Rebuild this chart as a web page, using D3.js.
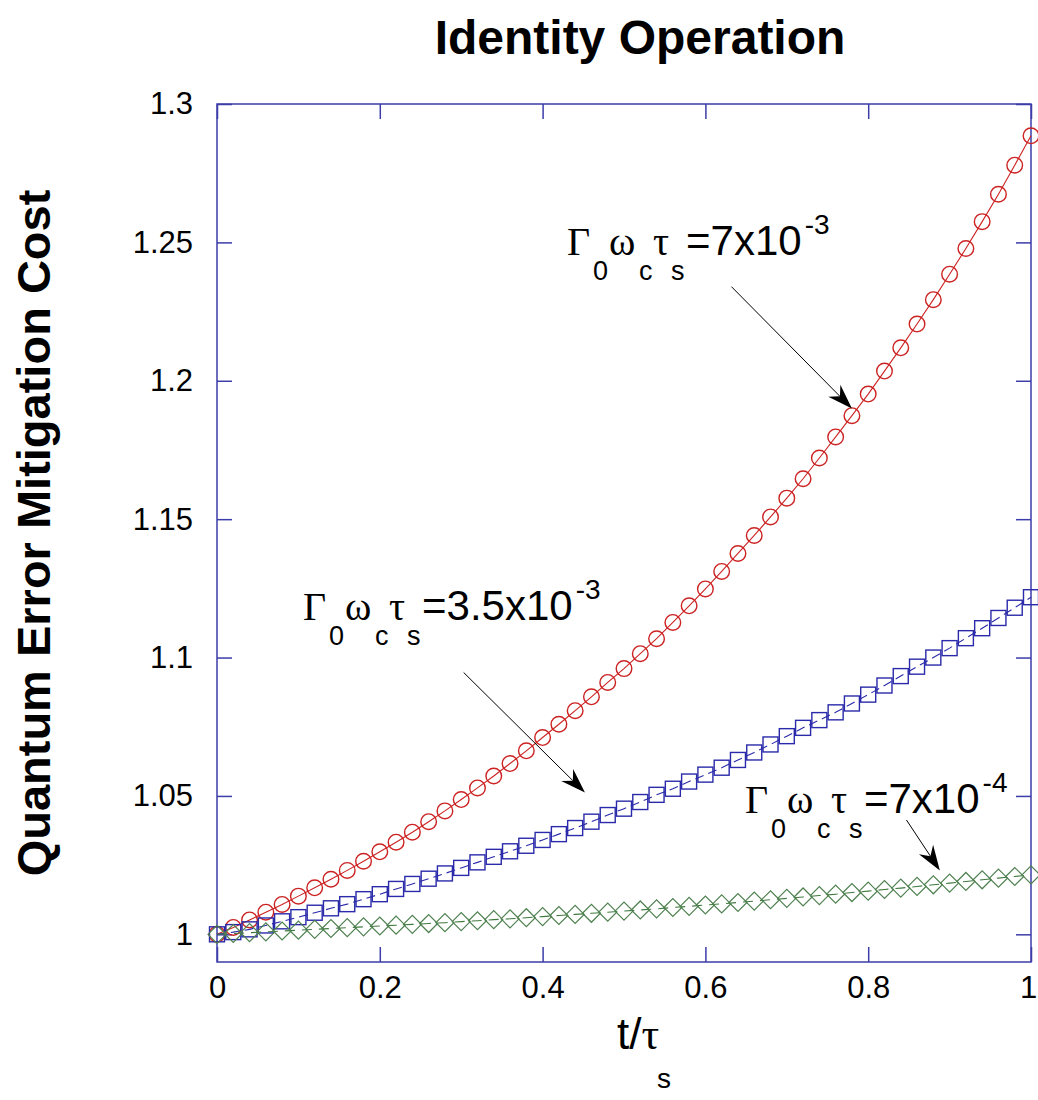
<!DOCTYPE html>
<html>
<head>
<meta charset="utf-8">
<script src="https://cdn.jsdelivr.net/npm/d3@7"></script>
<style>
  body { margin: 0; background: #fff; }
  text { font-family: Arial, "Liberation Sans", sans-serif; }
</style>
</head>
<body>
<div id="chart-area"></div>
<script>
// t / tau_s sample points
var tVals = [0, 0.02, 0.04, 0.06, 0.08, 0.1, 0.12, 0.14, 0.16, 0.18, 0.2, 0.22, 0.24, 0.26, 0.28, 0.3,
  0.32, 0.34, 0.36, 0.38, 0.4, 0.42, 0.44, 0.46, 0.48, 0.5, 0.52, 0.54, 0.56, 0.58, 0.6, 0.62, 0.64,
  0.66, 0.68, 0.7, 0.72, 0.74, 0.76, 0.78, 0.8, 0.82, 0.84, 0.86, 0.88, 0.9, 0.92, 0.94, 0.96, 0.98, 1];

// Gamma0 wc tau_s = 7e-3  (red circles)
var costHigh = [1.0000, 1.0025, 1.0052, 1.0080, 1.0108, 1.0138, 1.0168, 1.0199, 1.0231, 1.0264, 1.0298,
  1.0333, 1.0369, 1.0407, 1.0446, 1.0487, 1.0529, 1.0572, 1.0617, 1.0663, 1.0711, 1.0759, 1.0808,
  1.0858, 1.0910, 1.0960, 1.1014, 1.1068, 1.1127, 1.1187, 1.1248, 1.1311, 1.1376, 1.1441, 1.1508,
  1.1576, 1.1646, 1.1721, 1.1797, 1.1874, 1.1952, 1.2035, 1.2119, 1.2205, 1.2293, 1.2385, 1.2478,
  1.2575, 1.2674, 1.2779, 1.2885];

// Gamma0 wc tau_s = 3.5e-3  (blue squares)
var costMid = [1.0000, 1.0008, 1.0018, 1.0032, 1.0047, 1.0062, 1.0078, 1.0094, 1.0109, 1.0127, 1.0145,
  1.0164, 1.0182, 1.0201, 1.0220, 1.0240, 1.0260, 1.0280, 1.0300, 1.0320, 1.0341, 1.0362, 1.0384,
  1.0407, 1.0431, 1.0454, 1.0478, 1.0504, 1.0526, 1.0552, 1.0577, 1.0602, 1.0630, 1.0657, 1.0686,
  1.0716, 1.0746, 1.0774, 1.0802, 1.0834, 1.0866, 1.0899, 1.0933, 1.0967, 1.1000, 1.1034, 1.1070,
  1.1106, 1.1143, 1.1180, 1.1218];

// Gamma0 wc tau_s = 7e-4  (green diamonds)
var costLow = [1.0000, 1.0003, 1.0006, 1.0009, 1.0012, 1.0015, 1.0018, 1.0021, 1.0024, 1.0027, 1.0030,
  1.0033, 1.0036, 1.0039, 1.0042, 1.0046, 1.0049, 1.0053, 1.0056, 1.0060, 1.0064, 1.0068, 1.0072,
  1.0076, 1.0080, 1.0084, 1.0088, 1.0092, 1.0097, 1.0101, 1.0106, 1.0110, 1.0115, 1.0120, 1.0125,
  1.0130, 1.0135, 1.0140, 1.0145, 1.0151, 1.0156, 1.0162, 1.0167, 1.0173, 1.0179, 1.0185, 1.0191,
  1.0197, 1.0203, 1.0209, 1.0215];

var xTicks = [0, 0.2, 0.4, 0.6, 0.8, 1];
var xTickLabels = ["0", "0.2", "0.4", "0.6", "0.8", "1"];
var yTicks = [1, 1.05, 1.1, 1.15, 1.2, 1.25, 1.3];
var yTickLabels = ["1", "1.05", "1.1", "1.15", "1.2", "1.25", "1.3"];

// annotation label text (after the Γ0 ωc τs part) and its exponent
var labelMain = ["=7x10", "=3.5x10", "=7x10"];
var labelExp = ["-3", "-3", "-4"];

var frameColor = "#3c3caa";

var svg = d3.select("#chart-area").append("svg")
  .attr("width", 1038)
  .attr("height", 1100);

var x = d3.scaleLinear().domain([0, 1]).range([217, 1031]);
var y = d3.scaleLinear().domain([0.99, 1.3]).range([962, 104]);

// frame
svg.append("rect")
  .attr("x", x(0))
  .attr("y", y(1.3))
  .attr("width", x(1) - x(0))
  .attr("height", y(0.99) - y(1.3))
  .attr("fill", "none")
  .attr("stroke", frameColor)
  .attr("stroke-width", 1.5);

function styleAxis(g, showLabels) {
  g.select(".domain").remove();
  g.selectAll(".tick line").attr("stroke", frameColor).attr("stroke-width", 1.5);
  g.selectAll(".tick text")
    .attr("fill", "#000")
    .style("font-size", "31px")
    .style("font-family", "Arial, 'Liberation Sans', sans-serif");
  if (!showLabels) g.selectAll(".tick text").remove();
}

var xAxisG = svg.append("g")
  .attr("transform", "translate(0," + y(0.99) + ")")
  .call(d3.axisBottom(x).tickValues(xTicks)
    .tickFormat(function(d, i) { return xTickLabels[i]; })
    .tickSizeInner(-15).tickSizeOuter(0).tickPadding(14))
  .call(styleAxis, true);
// keep the last "1" inside the page
xAxisG.selectAll(".tick text").filter(function(d) { return d == 1; }).attr("dx", -3);

svg.append("g")
  .attr("transform", "translate(0," + y(1.3) + ")")
  .call(d3.axisTop(x).tickValues(xTicks).tickSizeInner(-15).tickSizeOuter(0))
  .call(styleAxis, false);

svg.append("g")
  .attr("transform", "translate(" + x(0) + ",0)")
  .call(d3.axisLeft(y).tickValues(yTicks)
    .tickFormat(function(d, i) { return yTickLabels[i]; })
    .tickSizeInner(-15).tickSizeOuter(0).tickPadding(24))
  .call(styleAxis, true);

svg.append("g")
  .attr("transform", "translate(" + x(1) + ",0)")
  .call(d3.axisRight(y).tickValues(yTicks).tickSizeInner(-15).tickSizeOuter(0))
  .call(styleAxis, false);

// series
var series = [
  { vals: costHigh, color: "#cc2222", shape: "circle", dash: null },
  { vals: costMid, color: "#2a2aaa", shape: "square", dash: "9,5" },
  { vals: costLow, color: "#3e7a3e", shape: "diamond", dash: "10,7" }
];

var line = d3.line()
  .x(function(d) { return x(d[0]); })
  .y(function(d) { return y(d[1]); });

series.forEach(function(s) {
  var pts = tVals.map(function(t, i) { return [t, s.vals[i]]; });

  svg.append("path")
    .datum(pts)
    .attr("d", line)
    .attr("fill", "none")
    .attr("stroke", s.color)
    .attr("stroke-width", 1.1)
    .attr("stroke-dasharray", s.dash);

  var g = svg.append("g");
  if (s.shape == "circle") {
    g.selectAll("circle").data(pts).enter().append("circle")
      .attr("cx", function(d) { return x(d[0]); })
      .attr("cy", function(d) { return y(d[1]); })
      .attr("r", 7.8)
      .attr("fill", "none")
      .attr("stroke", s.color)
      .attr("stroke-width", 1.4);
  } else if (s.shape == "square") {
    g.selectAll("rect").data(pts).enter().append("rect")
      .attr("x", function(d) { return x(d[0]) - 7.5; })
      .attr("y", function(d) { return y(d[1]) - 7.5; })
      .attr("width", 15)
      .attr("height", 15)
      .attr("fill", "none")
      .attr("stroke", s.color)
      .attr("stroke-width", 1.4);
  } else {
    g.selectAll("path").data(pts).enter().append("path")
      .attr("d", function(d) {
        var cx = x(d[0]), cy = y(d[1]), r = 9;
        return "M" + (cx - r) + "," + cy + "L" + cx + "," + (cy - r) +
          "L" + (cx + r) + "," + cy + "L" + cx + "," + (cy + r) + "Z";
      })
      .attr("fill", "none")
      .attr("stroke", "#4f8150")
      .attr("stroke-width", 1.2);
  }
});

// annotations (data coordinates)
var labelPos = [[0.43, 1.2454], [0.1057, 1.1136], [0.6486, 1.0438]];
var arrowFrom = [[0.632, 1.234], [0.303, 1.0946], [0.847, 1.0413]];
var arrowTo = [[0.78, 1.190], [0.452, 1.0512], [0.888, 1.0231]];

function drawArrow(x1, y1, x2, y2) {
  var ang = Math.atan2(y2 - y1, x2 - x1);
  var len = 25, half = 8.5, back = 8;
  var bx = x2 - len * Math.cos(ang), by = y2 - len * Math.sin(ang);
  var nx = -Math.sin(ang), ny = Math.cos(ang);
  var ix = x2 - (len - back) * Math.cos(ang), iy = y2 - (len - back) * Math.sin(ang);
  svg.append("line")
    .attr("x1", x1).attr("y1", y1).attr("x2", ix).attr("y2", iy)
    .attr("stroke", "#000").attr("stroke-width", 1);
  svg.append("path")
    .attr("d", "M" + x2 + "," + y2 +
      "L" + (bx + nx * half) + "," + (by + ny * half) +
      "L" + ix + "," + iy +
      "L" + (bx - nx * half) + "," + (by - ny * half) + "Z")
    .attr("fill", "#000");
}

var serif = "'Liberation Serif', 'DejaVu Serif', serif";

labelPos.forEach(function(p, i) {
  var x0 = x(p[0]), b = y(p[1]);
  var g = svg.append("g");
  function put(tx, dx, dy, size, font) {
    g.append("text").attr("x", x0 + dx).attr("y", b + dy)
      .style("font-size", size + "px").style("font-family", font).text(tx);
  }
  put("\u0393", 0, 0, 40, serif);
  put("0", 26, 25, 27, "Arial, sans-serif");
  put("\u03C9", 42, 0, 40, serif);
  put("c", 72, 25, 27, "Arial, sans-serif");
  put("\u03C4", 86, 0, 40, serif);
  put("s", 104, 25, 27, "Arial, sans-serif");
  var t = g.append("text").attr("x", x0 + 119).attr("y", b)
    .style("font-size", "42px");
  t.append("tspan").text(labelMain[i]);
  t.append("tspan").attr("dx", 3).attr("dy", -21).style("font-size", "28px").text(labelExp[i]);

  drawArrow(x(arrowFrom[i][0]), y(arrowFrom[i][1]), x(arrowTo[i][0]), y(arrowTo[i][1]));
});

// titles
svg.append("text")
  .attr("x", 640).attr("y", 54)
  .attr("text-anchor", "middle")
  .style("font-size", "48px").style("font-weight", "bold")
  .text("Identity Operation");

svg.append("text")
  .attr("transform", "translate(50," + ((y(0.99) + y(1.3)) / 2) + ") rotate(-90)")
  .attr("text-anchor", "middle")
  .style("font-size", "47px").style("font-weight", "bold")
  .text("Quantum Error Mitigation Cost");

var xl = svg.append("text").attr("x", 617).attr("y", 1049).style("font-size", "44px");
xl.append("tspan").text("t/");
xl.append("tspan").style("font-family", serif).text("\u03C4");
svg.append("text").attr("x", 657).attr("y", 1088).style("font-size", "28px").text("s");
</script>
</body>
</html>
